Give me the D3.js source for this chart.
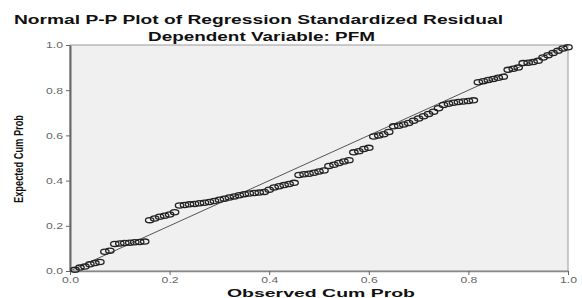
<!DOCTYPE html>
<html>
<head>
<meta charset="utf-8">
<script src="https://cdn.jsdelivr.net/npm/d3@7"></script>
<style>
  body { margin: 0; background: #fff; }
  text { font-family: "Liberation Sans", Arial, sans-serif; }
</style>
</head>
<body>
<div id="chart"></div>
<script>
// observed cumulative probabilities (x)
var observed = [
  0.01, 0.02, 0.03, 0.04, 0.05, 0.06, 0.07, 0.08, 0.09, 0.10,
  0.11, 0.12, 0.13, 0.14, 0.15, 0.16, 0.17, 0.18, 0.19, 0.20,
  0.21, 0.22, 0.23, 0.24, 0.25, 0.26, 0.27, 0.28, 0.29, 0.30,
  0.31, 0.32, 0.33, 0.34, 0.35, 0.36, 0.37, 0.38, 0.39, 0.40,
  0.41, 0.42, 0.43, 0.44, 0.45, 0.46, 0.47, 0.48, 0.49, 0.50,
  0.51, 0.52, 0.53, 0.54, 0.55, 0.56, 0.57, 0.58, 0.59, 0.60,
  0.61, 0.62, 0.63, 0.64, 0.65, 0.66, 0.67, 0.68, 0.69, 0.70,
  0.71, 0.72, 0.73, 0.74, 0.75, 0.76, 0.77, 0.78, 0.79, 0.80,
  0.81, 0.82, 0.83, 0.84, 0.85, 0.86, 0.87, 0.88, 0.89, 0.90,
  0.91, 0.92, 0.93, 0.94, 0.95, 0.96, 0.97, 0.98, 0.99, 1.00
];

// expected cumulative probabilities (y)
var expected = [
  0.005, 0.015, 0.020, 0.030, 0.035, 0.040, 0.085, 0.090, 0.120, 0.122,
  0.124, 0.125, 0.127, 0.128, 0.130, 0.225, 0.232, 0.240, 0.245, 0.250,
  0.260, 0.290, 0.292, 0.295, 0.297, 0.300, 0.302, 0.305, 0.310, 0.315,
  0.320, 0.325, 0.330, 0.335, 0.340, 0.343, 0.345, 0.347, 0.350, 0.360,
  0.370, 0.375, 0.380, 0.385, 0.390, 0.425, 0.428, 0.430, 0.435, 0.440,
  0.445, 0.465, 0.470, 0.478, 0.485, 0.490, 0.525, 0.530, 0.540, 0.545,
  0.595, 0.600, 0.605, 0.615, 0.640, 0.643, 0.648, 0.655, 0.665, 0.675,
  0.685, 0.695, 0.705, 0.720, 0.735, 0.740, 0.745, 0.748, 0.750, 0.752,
  0.755, 0.835, 0.840, 0.845, 0.850, 0.855, 0.860, 0.890, 0.895, 0.900,
  0.920, 0.922, 0.925, 0.930, 0.945, 0.955, 0.965, 0.975, 0.985, 0.990
];

var tickValues = [0, 0.2, 0.4, 0.6, 0.8, 1.0];

var titleLines = ["Normal P-P Plot of Regression Standardized Residual", "Dependent Variable: PFM"];
var xTitle = "Observed Cum Prob";
var yTitle = "Expected Cum Prob";

var width = 582, height = 298;
var plotLeft = 70, plotRight = 568, plotTop = 45, plotBottom = 271;

var svg = d3.select("#chart").append("svg")
  .attr("width", width)
  .attr("height", height);

var x = d3.scaleLinear().domain([0, 1]).range([plotLeft, plotRight]);
var y = d3.scaleLinear().domain([0, 1]).range([plotBottom, plotTop]);

// plot background + frame
svg.append("rect")
  .attr("x", plotLeft).attr("y", plotTop)
  .attr("width", plotRight - plotLeft).attr("height", plotBottom - plotTop)
  .attr("fill", "#f0f0f0")
  .attr("stroke", "#9a9a9a")
  .attr("stroke-width", 1);

// titles
svg.append("text")
  .attr("x", 14).attr("y", 24)
  .attr("textLength", 489).attr("lengthAdjust", "spacingAndGlyphs")
  .attr("font-size", 12.5).attr("font-weight", "bold").attr("fill", "#111")
  .text(titleLines[0]);
svg.append("text")
  .attr("x", 148).attr("y", 41)
  .attr("textLength", 227).attr("lengthAdjust", "spacingAndGlyphs")
  .attr("font-size", 12.5).attr("font-weight", "bold").attr("fill", "#111")
  .text(titleLines[1]);

// axes
var xAxis = svg.append("g")
  .attr("transform", "translate(0," + plotBottom + ")")
  .call(d3.axisBottom(x).tickValues(tickValues).tickFormat(d3.format(".1f")).tickSize(4).tickSizeOuter(0));
xAxis.select(".domain").attr("stroke", "#888").attr("stroke-width", 1.5);
xAxis.selectAll(".tick line").attr("stroke", "#666");
xAxis.selectAll(".tick text")
  .attr("font-family", "Liberation Sans, Arial, sans-serif")
  .attr("font-size", 9).attr("fill", "#666")
  .attr("dy", "0.6em")
  .attr("textLength", 17).attr("lengthAdjust", "spacingAndGlyphs");

var yAxis = svg.append("g")
  .attr("transform", "translate(" + plotLeft + ",0)")
  .call(d3.axisLeft(y).tickValues(tickValues).tickFormat(d3.format(".1f")).tickSize(4).tickSizeOuter(0));
yAxis.select(".domain").attr("stroke", "#666").attr("stroke-width", 2);
yAxis.selectAll(".tick line").attr("stroke", "#666");
yAxis.selectAll(".tick text")
  .attr("font-family", "Liberation Sans, Arial, sans-serif")
  .attr("font-size", 9).attr("fill", "#666")
  .attr("textLength", 17).attr("lengthAdjust", "spacingAndGlyphs");

svg.append("text")
  .attr("x", 227).attr("y", 297)
  .attr("textLength", 188).attr("lengthAdjust", "spacingAndGlyphs")
  .attr("font-size", 11.5).attr("font-weight", "bold").attr("fill", "#111")
  .text(xTitle);

svg.append("text")
  .attr("transform", "translate(23,159) rotate(-90)")
  .attr("text-anchor", "middle")
  .attr("textLength", 88).attr("lengthAdjust", "spacingAndGlyphs")
  .attr("font-size", 12.5).attr("font-weight", "bold").attr("fill", "#111")
  .text(yTitle);

// reference diagonal
svg.append("line")
  .attr("x1", x(0)).attr("y1", y(0))
  .attr("x2", x(1)).attr("y2", y(1))
  .attr("stroke", "#555").attr("stroke-width", 1);

// points
var data = observed.map(function (d, i) { return { obs: d, exp: expected[i] }; });

svg.append("g").selectAll("ellipse")
  .data(data)
  .enter()
  .append("ellipse")
  .attr("cx", function (d) { return x(d.obs); })
  .attr("cy", function (d) { return y(d.exp); })
  .attr("rx", 4.2)
  .attr("ry", 2.6)
  .attr("fill", "none")
  .attr("stroke", "#222")
  .attr("stroke-width", 1.3);
</script>
</body>
</html>
